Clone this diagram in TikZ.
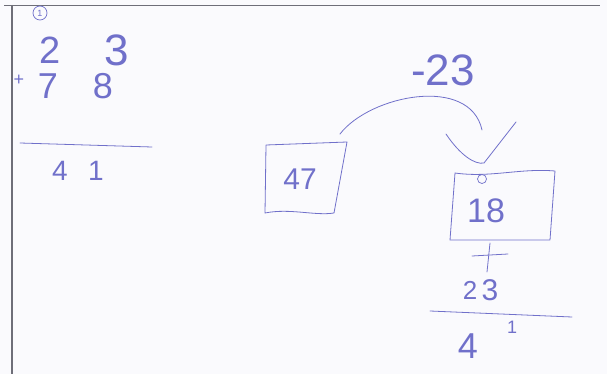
\documentclass[tikz,border=0pt]{standalone}
\usepackage{fontspec}
\setmainfont{Liberation Sans}
\begin{document}
\begin{tikzpicture}[x=1pt,y=-1pt,
  ink/.style={draw=inkc, line width=0.8pt, line cap=round, line join=round},
  dig/.style={text=inkc, inner sep=0pt, font=\fontsize{#1}{#1}\selectfont},
  dig/.default=34]
\definecolor{inkc}{RGB}{112,112,202}
\definecolor{paper}{RGB}{250,250,253}
\definecolor{rule}{RGB}{110,110,120}
\fill[paper] (0,0) rectangle (607,374);
\useasboundingbox (0,0) rectangle (607,374);
% page edges
\draw[rule, line width=0.6pt] (4,5) -- (600,5);
\draw[rule, line width=1.4pt] (12,5) -- (12,374);

% ---- left column addition ----
\node[ink, circle, inner sep=0pt, minimum size=14pt, line width=0.7pt] (c1) at (40,13) {};
\node[dig=9] (c1t) at (40,13) {1};
\node[dig=38] (a2) at (50,50) {2};
\node[dig=44] (a3) at (117,50) {3};
\node[dig=18] (aplus) at (19,80) {+};
\node[dig=36] (b1) at (48,86) {7};
\node[dig=36] (b8) at (103,86) {8};
\coordinate (l1a) at (20,143);
\coordinate (l1b) at (152,147);
\draw[ink] (l1a) -- (l1b);
\node[dig=28] (r4) at (60,171) {4};
\node[dig=28] (r1) at (96,171) {1};

% ---- box 47 ----
\coordinate (p1) at (266,145);
\coordinate (p2) at (347,142);
\coordinate (p3) at (334,213);
\coordinate (p4) at (265,213);
\draw[ink] (p1) -- (p2) -- (p3) .. controls (315,216) and (290,208) .. (p4) -- cycle;
\node[dig=30] (n47) at (300,179) {47};

% ---- label -23 ----
\node[dig=44] (m23) at (443,70) {-23};

% ---- curved connector and V arrowhead ----
\coordinate (arcs) at (340,134);
\coordinate (arce) at (482,130);
\draw[ink] (arcs) .. controls (370,95) and (470,75) .. (arce);
\coordinate (va) at (446,134);
\coordinate (vb) at (484,163);
\coordinate (vc) at (516,122);
\draw[ink] (va) .. controls (460,155) and (475,165) .. (vb) -- (vc);

% ---- box 18 ----
\coordinate (q1) at (455,173);
\coordinate (q2) at (555,171);
\coordinate (q3) at (550,240);
\coordinate (q4) at (450,240);
\draw[ink] (q1) .. controls (490,178) and (520,168) .. (q2) -- (q3) -- (q4) -- cycle;
\node[ink, circle, inner sep=0pt, minimum size=9pt, line width=0.7pt] (c0) at (482,179) {};
\node[dig=34] (n18) at (486,211) {18};

% ---- plus and second addition ----
\coordinate (ph1) at (472,256);
\coordinate (ph2) at (508,254);
\coordinate (pv1) at (490,243);
\coordinate (pv2) at (487,272);
\draw[ink] (ph1) -- (ph2);
\draw[ink] (pv1) -- (pv2);
\node[dig=26] (s2) at (470,290) {2};
\node[dig=30] (s3) at (490,290) {3};
\coordinate (l2a) at (430,311);
\coordinate (l2b) at (572,317);
\draw[ink] (l2a) -- (l2b);
\node[dig=36] (t4) at (468,346) {4};
\node[dig=18] (t1) at (512,327) {1};
\end{tikzpicture}
\end{document}
